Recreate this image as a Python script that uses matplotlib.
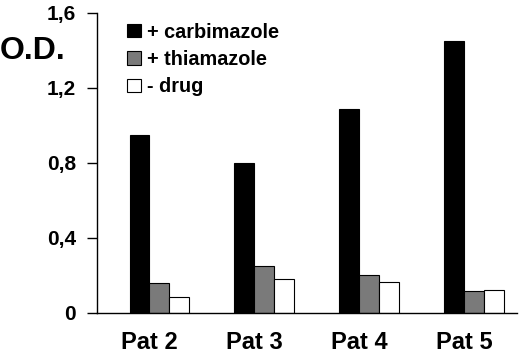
import matplotlib.pyplot as plt
import numpy as np

plt.rcParams['font.family'] = ['Liberation Sans', 'DejaVu Sans']
plt.rcParams['font.weight'] = 'bold'

patients = ['Pat 2', 'Pat 3', 'Pat 4', 'Pat 5']
carbimazole = [0.95, 0.80, 1.09, 1.45]
thiamazole = [0.16, 0.25, 0.20, 0.115]
no_drug = [0.085, 0.18, 0.167, 0.12]

fig = plt.figure(figsize=(5.2, 3.6), dpi=100)
ax = fig.add_axes([0.1865, 0.1306, 0.8075, 0.8334])

x = np.arange(len(patients))
w = 0.19
ax.bar(x - w / 2, carbimazole, w, color='black', edgecolor='black', linewidth=0.8, label='+ carbimazole')
ax.bar(x + w / 2, thiamazole, w, color='#7a7a7a', edgecolor='black', linewidth=0.8, label='+ thiamazole')
ax.bar(x + 1.5 * w, no_drug, w, color='white', edgecolor='black', linewidth=0.8, label='- drug')

ax.set_xlim(-0.5, 3.5)
ax.set_ylim(0, 1.6)
ax.set_yticks([0, 0.4, 0.8, 1.2, 1.6])
ax.set_yticklabels(['0', '0,4', '0,8', '1,2', '1,6'])
ax.set_xticks(x)
ax.set_xticklabels(patients)
ax.tick_params(axis='y', length=7, width=1, direction='out', pad=8, labelsize=15)
ax.tick_params(axis='x', length=0, pad=13, labelsize=17)
for s in ['top', 'right']:
    ax.spines[s].set_visible(False)
ax.spines['left'].set_linewidth(1)
ax.spines['bottom'].set_linewidth(1)

fig.text(0.0, 0.857, 'O.D.', fontsize=23, fontweight='bold', va='center', ha='left')

ax.legend(loc='upper left', bbox_to_anchor=(0.245, 0.937), bbox_transform=fig.transFigure,
          frameon=False, fontsize=14.3, handlelength=0.67, handleheight=0.67,
          handletextpad=0.34, labelspacing=0.42, borderaxespad=0, borderpad=0)

fig.savefig('out.png', dpi=100)
